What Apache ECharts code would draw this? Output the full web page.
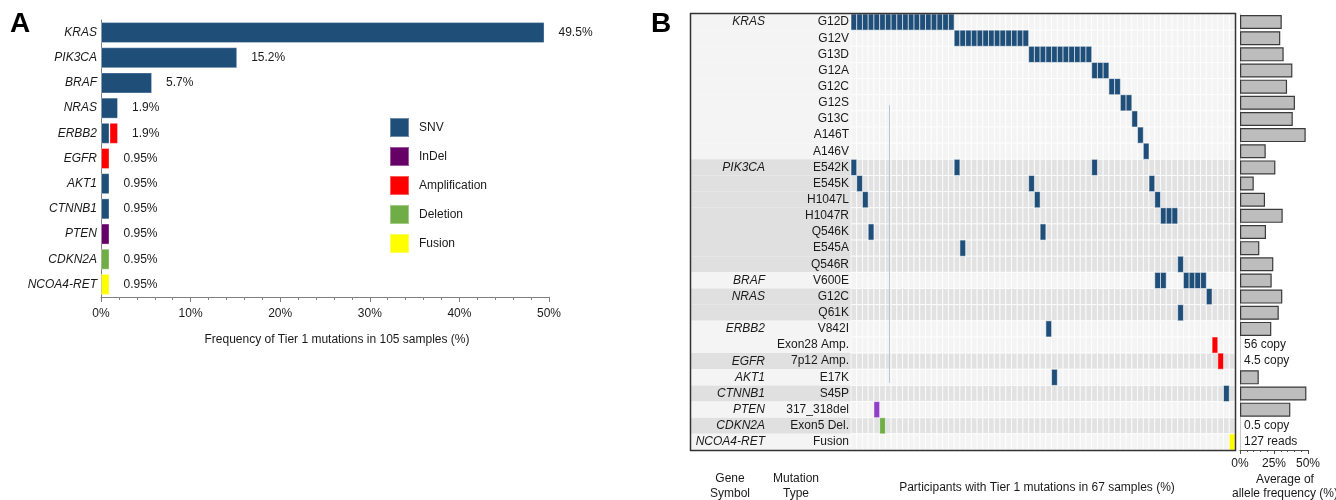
<!DOCTYPE html>
<html>
<head>
<meta charset="utf-8">
<script src="https://cdn.jsdelivr.net/npm/echarts@6/dist/echarts.min.js"></script>
<style>
  html, body { margin: 0; padding: 0; background: #ffffff; }
  #chart { width: 1336px; height: 500px; }
</style>
</head>
<body>
<div id="chart"></div>
<script>
// ---------- Panel A: frequency of Tier 1 mutations per gene (105 samples) ----------
const genesA    = ['KRAS', 'PIK3CA', 'BRAF', 'NRAS', 'ERBB2', 'EGFR', 'AKT1', 'CTNNB1', 'PTEN', 'CDKN2A', 'NCOA4-RET'];
const snvA      = [49.5, 15.2, 5.7, 1.9, 0.95, null, 0.95, 0.95, null, null, null];
const indelA    = [null, null, null, null, null, null, null, null, 0.95, null, null];
const ampA      = [null, null, null, null, 0.95, 0.95, null, null, null, null, null];
const deletionA = [null, null, null, null, null, null, null, null, null, 0.95, null];
const fusionA   = [null, null, null, null, null, null, null, null, null, null, 0.95];
const totalA    = [49.5, 15.2, 5.7, 1.9, 1.9, 0.95, 0.95, 0.95, 0.95, 0.95, 0.95];
const mutationClasses = ['SNV', 'InDel', 'Amplification', 'Deletion', 'Fusion'];

// ---------- Panel B: participants with Tier 1 mutations (67 samples) ----------
const rowGenes = ['KRAS', 'KRAS', 'KRAS', 'KRAS', 'KRAS', 'KRAS', 'KRAS', 'KRAS', 'KRAS',
  'PIK3CA', 'PIK3CA', 'PIK3CA', 'PIK3CA', 'PIK3CA', 'PIK3CA', 'PIK3CA',
  'BRAF', 'NRAS', 'NRAS', 'ERBB2', 'ERBB2', 'EGFR', 'AKT1', 'CTNNB1', 'PTEN', 'CDKN2A', 'NCOA4-RET'];
const rowMutations = ['G12D', 'G12V', 'G13D', 'G12A', 'G12C', 'G12S', 'G13C', 'A146T', 'A146V',
  'E542K', 'E545K', 'H1047L', 'H1047R', 'Q546K', 'E545A', 'Q546R',
  'V600E', 'G12C', 'Q61K', 'V842I', 'Exon28 Amp.', '7p12 Amp.', 'E17K', 'S45P', '317_318del', 'Exon5 Del.', 'Fusion'];
const rowClass = ['SNV', 'SNV', 'SNV', 'SNV', 'SNV', 'SNV', 'SNV', 'SNV', 'SNV',
  'SNV', 'SNV', 'SNV', 'SNV', 'SNV', 'SNV', 'SNV',
  'SNV', 'SNV', 'SNV', 'SNV', 'Amplification', 'Amplification', 'SNV', 'SNV', 'InDel', 'Deletion', 'Fusion'];
// participant (column) indices carrying each mutation
const rowParticipants = [
  [0, 1, 2, 3, 4, 5, 6, 7, 8, 9, 10, 11, 12, 13, 14, 15, 16, 17],
  [18, 19, 20, 21, 22, 23, 24, 25, 26, 27, 28, 29, 30],
  [31, 32, 33, 34, 35, 36, 37, 38, 39, 40, 41],
  [42, 43, 44],
  [45, 46],
  [47, 48],
  [49],
  [50],
  [51],
  [0, 18, 42],
  [1, 31, 52],
  [2, 32, 53],
  [54, 55, 56],
  [3, 33],
  [19],
  [57],
  [53, 54, 58, 59, 60, 61],
  [62],
  [57],
  [34],
  [63],
  [64],
  [35],
  [65],
  [4],
  [5],
  [66]
];
const participantCount = 67;
// average allele frequency (%) per mutation; copy-number / fusion rows carry a note instead
const rowAlleleFreq = [30.7, 29.6, 32.1, 38.5, 34.6, 40.4, 38.8, 48.3, 18.9,
  26.0, 10.1, 18.4, 31.4, 19.1, 14.2, 24.5,
  23.3, 31.1, 28.5, 23.0, null, null, 13.8, 48.8, 37.0, null, null];
const rowNotes = ['', '', '', '', '', '', '', '', '',
  '', '', '', '', '', '', '',
  '', '', '', '', '56 copy', '4.5 copy', '', '', '', '0.5 copy', '127 reads'];
const afTicks = [0, 25, 50];

// ---------- styling ----------
const FONT = '"Liberation Sans", Arial, sans-serif';
const TXT = '#1a1a1a';
const colorsA = { 'SNV': '#1f4e79', 'InDel': '#660066', 'Amplification': '#ff0000', 'Deletion': '#70ad47', 'Fusion': '#ffff00' };
const colorsB = { 'SNV': '#1f4e79', 'InDel': '#9040c8', 'Amplification': '#ff0000', 'Deletion': '#70ad47', 'Fusion': '#ffff00' };
const bandLight = '#f4f4f4', bandDark = '#e0e0e0';

// layout
const gA = { left: 101, top: 20, width: 448, height: 277 };
const gLab = { left: 691, top: 14, width: 160, height: 436 };
const gHeat = { left: 851, top: 14, width: 384, height: 436 };
const gAF = { left: 1240, top: 14, width: 68, height: 436 };

// alternating shading by gene block
const rowBand = [];
{
  let k = -1;
  rowGenes.forEach((g, i) => { if (i === 0 || g !== rowGenes[i - 1]) k++; rowBand.push(k % 2); });
}
const rowKeys = rowGenes.map((g, i) => g + '|' + rowMutations[i] + '|' + i);
const colKeys = Array.from({ length: participantCount }, (_, i) => String(i));

const bgCells = [];
rowKeys.forEach((_, r) => { for (let c = 0; c < participantCount; c++) bgCells.push([c, r, rowBand[r]]); });
const mutCells = [];
rowParticipants.forEach((cols, r) => cols.forEach(c => mutCells.push([c, r, mutationClasses.indexOf(rowClass[r])])));
const bandRows = rowKeys.map((_, r) => [0, r, rowBand[r]]);

function cellShape(api) {
  const p = api.coord([api.value(0), api.value(1)]);
  const s = api.size([1, 1]);
  return { x: p[0] - s[0] / 2, y: p[1] - s[1] / 2, width: s[0], height: s[1] };
}

const stackSeries = [snvA, indelA, ampA, deletionA, fusionA].map((d, i) => ({
  name: mutationClasses[i], type: 'bar', stack: 'freq', xAxisIndex: 0, yAxisIndex: 0,
  data: d, barWidth: 21,
  itemStyle: { color: colorsA[mutationClasses[i]], borderColor: 'rgba(255,255,255,0.35)', borderWidth: 1 }
}));

const option = {
  animation: false,
  backgroundColor: '#ffffff',
  textStyle: { fontFamily: FONT, color: TXT },
  grid: [
    Object.assign({}, gA),
    Object.assign({}, gHeat),
    Object.assign({}, gLab),
    Object.assign({}, gAF)
  ],
  legend: {
    data: mutationClasses, orient: 'vertical', left: 384, top: 112,
    itemWidth: 19, itemHeight: 19, itemGap: 8, icon: 'rect',
    textStyle: { fontSize: 12, color: TXT, fontFamily: FONT, padding: [0, 0, 0, 5] },
    selectedMode: false
  },
  xAxis: [
    { gridIndex: 0, type: 'value', min: 0, max: 50, interval: 10,
      axisLine: { show: true, lineStyle: { color: '#7f7f7f', width: 1 } },
      axisTick: { show: true, length: 5, lineStyle: { color: '#7f7f7f' } },
      minorTick: { show: true, splitNumber: 5, length: 3, lineStyle: { color: '#7f7f7f' } },
      splitLine: { show: false },
      axisLabel: { formatter: '{value}%', fontSize: 12, color: TXT, margin: 11, fontFamily: FONT } },
    { gridIndex: 1, type: 'category', data: colKeys, show: false },
    { gridIndex: 2, type: 'value', min: 0, max: 1, show: false },
    { gridIndex: 3, type: 'value', min: 0, max: 50, interval: 25,
      axisLine: { show: true, lineStyle: { color: '#4d4d4d', width: 1 } },
      axisTick: { show: true, length: 4, lineStyle: { color: '#4d4d4d' } },
      minorTick: { show: true, splitNumber: 5, length: 2, lineStyle: { color: '#4d4d4d' } },
      splitLine: { show: false },
      axisLabel: { formatter: v => afTicks.includes(v) ? v + '%' : '', fontSize: 12, color: TXT, margin: 8, fontFamily: FONT } }
  ],
  yAxis: [
    { gridIndex: 0, type: 'category', data: genesA, inverse: true,
      axisLine: { show: true, lineStyle: { color: '#7f7f7f' } }, axisTick: { show: false },
      axisLabel: { fontSize: 12, fontStyle: 'italic', color: TXT, margin: 4, fontFamily: FONT } },
    { gridIndex: 1, type: 'category', data: rowKeys, inverse: true, z: 10,
      axisLine: { show: false }, axisTick: { show: false },
      axisLabel: { interval: 0, margin: 2, fontSize: 12, color: TXT, fontFamily: FONT,
        formatter: v => v.split('|')[1] } },
    { gridIndex: 1, type: 'category', data: rowKeys, inverse: true, position: 'left', offset: 84, z: 10,
      axisLine: { show: false }, axisTick: { show: false },
      axisLabel: { interval: 0, margin: 2, fontSize: 12, fontStyle: 'italic', color: TXT, fontFamily: FONT,
        formatter: v => { const i = +v.split('|')[2]; return (i === 0 || rowGenes[i] !== rowGenes[i - 1]) ? rowGenes[i] : ''; } } },
    { gridIndex: 2, type: 'category', data: rowKeys, inverse: true, show: false },
    { gridIndex: 3, type: 'category', data: rowKeys, inverse: true,
      axisLine: { show: true, lineStyle: { color: '#c8c8c8' } }, axisTick: { show: false }, axisLabel: { show: false } }
  ],
  series: stackSeries.concat([
    { name: 'total', type: 'bar', xAxisIndex: 0, yAxisIndex: 0, data: totalA, barWidth: 21, barGap: '-100%',
      itemStyle: { color: 'rgba(0,0,0,0)' }, z: 1,
      label: { show: true, position: 'right', distance: 14, fontSize: 12, color: TXT, fontFamily: FONT,
        formatter: p => p.value + '%' } },
    // row shading behind the gene / mutation labels
    { type: 'custom', xAxisIndex: 2, yAxisIndex: 3, data: bandRows, z: 1, silent: true,
      renderItem: (params, api) => {
        const p = api.coord([0, api.value(1)]);
        const s = api.size([1, 1]);
        return { type: 'rect', shape: { x: p[0], y: p[1] - s[1] / 2, width: s[0], height: s[1] },
          style: { fill: api.value(2) ? bandDark : bandLight } };
      } },
    // empty participant cells
    { type: 'custom', xAxisIndex: 1, yAxisIndex: 1, data: bgCells, z: 1, silent: true,
      renderItem: (params, api) => ({ type: 'rect', shape: cellShape(api),
        style: { fill: api.value(2) ? '#e2e2e2' : '#f4f4f4', stroke: 'rgba(255,255,255,0.75)', lineWidth: 1 } }) },
    // mutated participant cells
    { type: 'custom', xAxisIndex: 1, yAxisIndex: 1, data: mutCells, z: 3, silent: true,
      renderItem: (params, api) => ({ type: 'rect', shape: cellShape(api),
        style: { fill: colorsB[mutationClasses[api.value(2)]], stroke: 'rgba(255,255,255,0.55)', lineWidth: 1 } }) },
    // average allele frequency
    { type: 'bar', xAxisIndex: 3, yAxisIndex: 4, data: rowAlleleFreq, barWidth: 14,
      itemStyle: { color: '#bdbdbd', borderColor: '#3a3a3a', borderWidth: 1.2 } },
    { type: 'bar', xAxisIndex: 3, yAxisIndex: 4, barGap: '-100%', barWidth: 14,
      data: rowNotes.map(n => n ? 0 : null),
      itemStyle: { color: 'rgba(0,0,0,0)' },
      label: { show: true, position: 'right', distance: 4, fontSize: 12, color: TXT, fontFamily: FONT,
        formatter: p => rowNotes[p.dataIndex] } }
  ]),
  graphic: [
    { type: 'text', left: 10, top: 10, style: { text: 'A', font: 'bold 28px ' + FONT, fill: '#000' } },
    { type: 'text', left: 651, top: 10, style: { text: 'B', font: 'bold 28px ' + FONT, fill: '#000' } },
    { type: 'text', x: 337, y: 340, style: { text: 'Frequency of Tier 1 mutations in 105 samples (%)',
        font: '12px ' + FONT, fill: TXT, align: 'center', verticalAlign: 'middle' } },
    // thin guide line across the participant matrix
    { type: 'line', z: 15, silent: true, shape: { x1: 889.5, y1: 105, x2: 889.5, y2: 383 },
      style: { stroke: '#b4c6da', lineWidth: 1 } },
    { type: 'rect', z: 20, silent: true,
      shape: { x: gLab.left - 0.5, y: gLab.top - 0.5, width: gHeat.left + gHeat.width - gLab.left + 1, height: gLab.height + 1 },
      style: { fill: 'none', stroke: '#333333', lineWidth: 1.5 } },
    { type: 'text', x: 730, y: 486, style: { text: 'Gene\nSymbol', font: '12px ' + FONT, fill: TXT, align: 'center', verticalAlign: 'middle', lineHeight: 15 } },
    { type: 'text', x: 796, y: 486, style: { text: 'Mutation\nType', font: '12px ' + FONT, fill: TXT, align: 'center', verticalAlign: 'middle', lineHeight: 15 } },
    { type: 'text', x: 1037, y: 488, style: { text: 'Participants with Tier 1 mutations in 67 samples (%)', font: '12px ' + FONT, fill: TXT, align: 'center', verticalAlign: 'middle' } },
    { type: 'text', x: 1285, y: 487, style: { text: 'Average of\nallele frequency (%)', font: '12px ' + FONT, fill: TXT, align: 'center', verticalAlign: 'middle', lineHeight: 14 } }
  ]
};

const chart = echarts.init(document.getElementById('chart'), null, { renderer: 'canvas' });
chart.setOption(option);
</script>
</body>
</html>
